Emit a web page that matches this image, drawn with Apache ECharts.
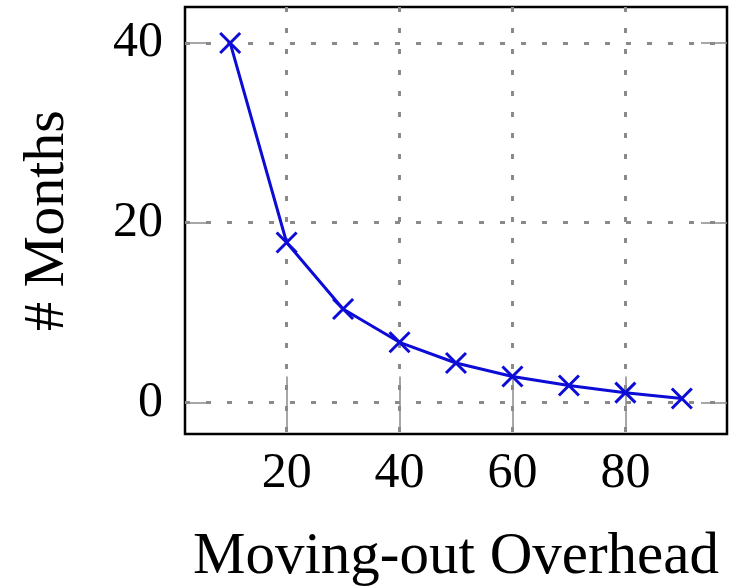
<!DOCTYPE html>
<html>
<head>
<meta charset="utf-8">
<script src="https://cdn.jsdelivr.net/npm/echarts@6/dist/echarts.min.js"></script>
<style>
  html, body { margin: 0; padding: 0; background: #fff; }
</style>
</head>
<body>
<div id="chart" style="width: 746px; height: 588px; background: #fff"></div>
<script>
// data
const overhead = [10, 20, 30, 40, 50, 60, 70, 80, 90];
const months = [40, 17.8, 10.4, 6.7, 4.4, 2.9, 1.9, 1.1, 0.45];
const xTicks = [20, 40, 60, 80];
const yTicks = [0, 20, 40];

const fontFamily = "'Liberation Serif', 'DejaVu Serif', serif";
const gridGray = "#8a8a8a";
const lineBlue = "#0c0cd6";

const gridLine = {
  show: true,
  lineStyle: { color: gridGray, width: 3, type: [5, 16], cap: "butt" },
};
const tickStyle = {
  show: true,
  inside: true,
  length: 26,
  lineStyle: { color: gridGray, width: 1.5 },
};

const xBase = {
  type: "value",
  min: 2,
  max: 98,
  interval: 20,
  axisLine: { show: false },
  axisTick: tickStyle,
  splitLine: { show: false },
};
const yBase = {
  type: "value",
  min: -3.5,
  max: 44,
  axisLine: { show: false },
  axisTick: tickStyle,
  splitLine: { show: false },
};

const option = {
  animation: false,
  grid: {
    left: 185,
    right: 19,
    top: 7,
    bottom: 154,
    containLabel: false,
    outerBoundsMode: "none",
    show: true,
    borderColor: "#000",
    borderWidth: 2.5,
    backgroundColor: "transparent",
  },
  xAxis: [
    {
      ...xBase,
      position: "bottom",
      splitLine: gridLine,
      axisLabel: {
        margin: 15,
        fontFamily,
        fontSize: 50,
        color: "#000",
        customValues: xTicks,
      },
      axisTick: { ...tickStyle, customValues: xTicks },
      name: "Moving-out Overhead",
      nameLocation: "middle",
      nameGap: 94,
      nameTextStyle: { fontFamily, fontSize: 59, color: "#000" },
    },
    {
      ...xBase,
      position: "top",
      axisLabel: { show: false },
      axisTick: { ...tickStyle, customValues: xTicks },
    },
  ],
  yAxis: [
    {
      ...yBase,
      position: "left",
      splitLine: gridLine,
      axisLabel: {
        margin: 22,
        fontFamily,
        fontSize: 50,
        color: "#000",
        customValues: yTicks,
      },
      axisTick: { ...tickStyle, customValues: yTicks },
      name: "# Months",
      nameLocation: "middle",
      nameRotate: 90,
      nameGap: 108,
      nameTextStyle: { fontFamily, fontSize: 58, color: "#000" },
    },
    {
      ...yBase,
      position: "right",
      axisLabel: { show: false },
      axisTick: { ...tickStyle, customValues: yTicks },
    },
  ],
  series: [
    {
      type: "line",
      data: overhead.map((x, i) => [x, months[i]]),
      symbol: "path://M0,0L10,10M10,0L0,10",
      symbolSize: 20,
      lineStyle: { color: lineBlue, width: 3 },
      itemStyle: { color: "transparent", borderColor: lineBlue, borderWidth: 3 },
      z: 5,
    },
  ],
};

const chart = echarts.init(document.getElementById("chart"));
chart.setOption(option);
</script>
</body>
</html>
